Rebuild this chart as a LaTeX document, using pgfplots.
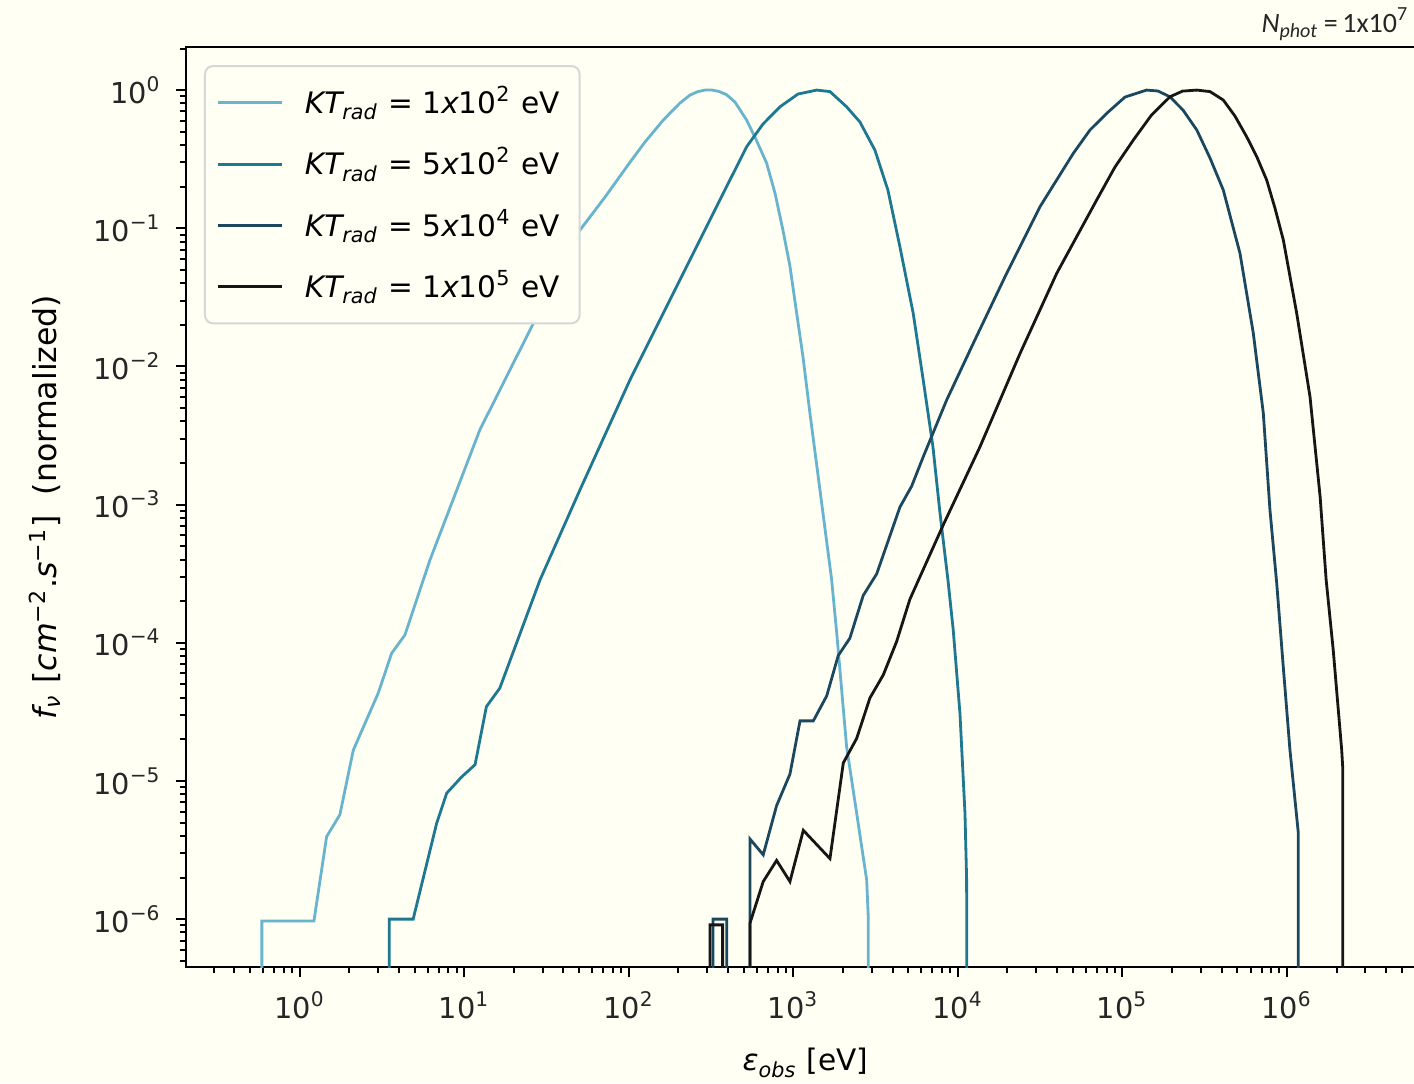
\documentclass[border=0pt]{standalone}
\usepackage{fontspec}
\setmainfont{DejaVu Sans}
\newfontfamily\carlito{Carlito}
\usepackage{pgfplots}
\pgfplotsset{compat=1.18}
\definecolor{bg}{RGB}{255,255,244}
\definecolor{cA}{RGB}{104,180,207}
\definecolor{cB}{RGB}{30,120,145}
\definecolor{cC}{RGB}{28,72,95}
\definecolor{cD}{RGB}{22,22,22}
\definecolor{legedge}{RGB}{215,215,215}
\newcommand{\fs}{\fontsize{7.2}{8.6}\selectfont}
\newcommand{\fl}{\fontsize{7.4}{8.8}\selectfont}
\begin{document}
\begin{tikzpicture}
\fill[bg] (-46.5pt,-29pt) rectangle (307pt,241.75pt);
\begin{axis}[
  at={(0,0)}, anchor=south west,
  scale only axis, width=309.75pt, height=230pt,
  xmode=log, ymode=log,
  xmin=0.203, xmax=6.9e6, ymin=4.5e-7, ymax=2.05,
  axis background/.style={fill=bg},
  axis line style={line width=0.6pt},
  tick pos=left, tick align=outside,
  major tick length=2.6pt, minor tick length=1.5pt,
  every tick/.style={black, line width=0.5pt},
  xtick={1,10,100,1000,10000,100000,1000000},
  xticklabels={10\textsuperscript{0},10\textsuperscript{1},10\textsuperscript{2},10\textsuperscript{3},10\textsuperscript{4},10\textsuperscript{5},10\textsuperscript{6}},
  minor xtick={0.3,0.4,0.5,0.6,0.7,0.8,0.9,2,3,4,5,6,7,8,9,20,30,40,50,60,70,80,90,200,300,400,500,600,700,800,900,2e3,3e3,4e3,5e3,6e3,7e3,8e3,9e3,2e4,3e4,4e4,5e4,6e4,7e4,8e4,9e4,2e5,3e5,4e5,5e5,6e5,7e5,8e5,9e5,2e6,3e6,4e6,5e6,6e6},
  ytick={1e-6,1e-5,1e-4,1e-3,1e-2,1e-1,1},
  yticklabels={10\textsuperscript{−6},10\textsuperscript{−5},10\textsuperscript{−4},10\textsuperscript{−3},10\textsuperscript{−2},10\textsuperscript{−1},10\textsuperscript{0}},
  minor ytick={5e-7,6e-7,7e-7,8e-7,9e-7,2e-6,3e-6,4e-6,5e-6,6e-6,7e-6,8e-6,9e-6,2e-5,3e-5,4e-5,5e-5,6e-5,7e-5,8e-5,9e-5,2e-4,3e-4,4e-4,5e-4,6e-4,7e-4,8e-4,9e-4,2e-3,3e-3,4e-3,5e-3,6e-3,7e-3,8e-3,9e-3,2e-2,3e-2,4e-2,5e-2,6e-2,7e-2,8e-2,9e-2,0.2,0.3,0.4,0.5,0.6,0.7,0.8,0.9,2},
  tick label style={font=\fs, text=black!85},
  every axis x label/.style={at={(axis description cs:0.5,-0.113)}, anchor=base},
  every axis y label/.style={at={(axis description cs:-0.1138,0.5)}, rotate=90, anchor=center},
  xlabel={\fl{\itshape ε\textsubscript{obs}} [eV]},
  ylabel={\fontsize{7.9}{9.4}\selectfont{\itshape f\textsubscript{ν}} [{\itshape cm}\textsuperscript{−2}.{\itshape s}\textsuperscript{−1}] \ (normalized)},
  legend style={at={(0.0145,0.9804)}, anchor=north west, draw=legedge, fill=bg,
    rounded corners=2pt, line width=0.5pt, font=\fl, row sep=3pt,
    inner xsep=3pt, inner ysep=3pt},
  legend cell align=left,
  legend image code/.code={\draw[#1] (0pt,0pt) -- (16pt,0pt); \path (19.3pt,0pt);},
  every axis plot/.append style={line width=0.7pt},
]
\addplot[cA] coordinates {
(0.587,1e-12)(0.587,9.7e-7)(1.217,9.7e-7)(1.453,3.95e-6)(1.75,5.7e-6)(2.11,1.67e-5)
(2.99,4.31e-5)(3.61,8.4e-5)(4.35,1.14e-4)(6.17,3.97e-4)(12.4,3.47e-3)(25.0,1.83e-2)
(50.4,9.7e-2)(71.5,0.168)(101.4,0.30)(125,0.42)(161.7,0.607)(204,0.805)(235,0.92)
(262,0.975)(290,1.0)(320,1.0)(350,0.98)(390,0.93)(441,0.82)(519,0.607)(592,0.44)
(687,0.296)(772,0.18)(863,0.097)(952,0.0532)(1046,0.0243)(1143,0.0117)(1259,4.6e-3)
(1511,8.7e-4)(1707,2.85e-4)(1832,1.18e-4)(2104,1.77e-5)(2421,5.86e-6)(2787,1.92e-6)
(2850,1.02e-6)(2850,1e-12)
};
\addlegendentry{{\itshape KT\textsubscript{rad}} = 1{\itshape x}10\textsuperscript{2} eV}
\addplot[cB] coordinates {
(3.49,1e-12)(3.49,1.0e-6)(4.88,1.0e-6)(6.78,4.94e-6)(7.80,8.15e-6)(9.62,1.07e-5)
(11.6,1.31e-5)(13.6,3.45e-5)(16.4,4.69e-5)(28.8,2.85e-4)(50.4,1.28e-3)(101.4,7.98e-3)
(204,4.22e-2)(325,0.128)(519,0.389)(653,0.568)(828,0.757)(1065,0.936)(1384,1.0)
(1668,0.975)(2104,0.757)(2537,0.587)(3126,0.368)(3751,0.189)(4437,0.0735)(5345,0.0242)
(6148,7.98e-3)(7046,2.62e-3)(7779,8.65e-4)(8690,2.85e-4)(9357,1.24e-4)(10280,3.09e-5)
(11030,5.84e-6)(11290,1.92e-6)(11380,1e-12)
};
\addlegendentry{{\itshape KT\textsubscript{rad}} = 5{\itshape x}10\textsuperscript{2} eV}
\addplot[cC] coordinates {
(324,1e-12)(324,1.0e-6)(393,1.0e-6)(393,1e-12)(544,1e-12)(544,3.8e-6)(655,2.92e-6)
(790,6.63e-6)(952,1.12e-5)(1096,2.72e-5)(1320,2.72e-5)(1592,4.12e-5)(1871,8.07e-5)
(2203,1.08e-4)(2655,2.2e-4)(3205,3.15e-4)(4439,9.6e-4)(5230,1.36e-3)(6152,2.22e-3)
(8535,5.71e-3)(12390,1.47e-2)(19770,4.72e-2)(31500,0.143)(50200,0.348)(63450,0.514)
(80100,0.678)(103500,0.89)(140000,1.0)(164300,0.985)(194000,0.895)(233300,0.717)
(283000,0.514)(340600,0.322)(410000,0.189)(518000,0.0658)(624000,0.0174)(718000,4.58e-3)
(788000,9.14e-4)(866000,2.7e-4)(949000,6.72e-5)(1042000,1.68e-5)(1145000,5.52e-6)
(1172000,4.19e-6)(1172000,1e-12)
};
\addlegendentry{{\itshape KT\textsubscript{rad}} = 5{\itshape x}10\textsuperscript{4} eV}
\addplot[cD] coordinates {
(311,1e-12)(311,9.08e-7)(371,9.08e-7)(371,1e-12)(544,1e-12)(544,9.33e-7)(655,1.87e-6)
(790,2.66e-6)(952,1.87e-6)(1148,4.39e-6)(1667,2.74e-6)(2009,1.35e-5)(2422,2.03e-5)
(2917,3.99e-5)(3515,5.85e-5)(4237,1.02e-4)(5106,2.07e-4)(8144,7.14e-4)(13610,2.62e-3)
(23830,1.24e-2)(39840,4.72e-2)(69660,0.160)(89960,0.277)(116400,0.435)(150000,0.659)
(194500,0.895)(231800,0.983)(283000,1.0)(340600,0.975)(410000,0.847)(483000,0.648)
(569000,0.459)(657000,0.327)(753000,0.223)(845000,0.14)(950000,0.0822)(1146000,0.0242)
(1380000,6.04e-3)(1590000,1.14e-3)(1730000,2.85e-4)(1910000,8.87e-5)(2150000,1.68e-5)
(2180000,1.27e-5)(2180000,1e-12)
};
\addlegendentry{{\itshape KT\textsubscript{rad}} = 1{\itshape x}10\textsuperscript{5} eV}
\end{axis}
\node[anchor=base east, inner sep=0pt, font=\carlito\fontsize{7}{8}\selectfont, text=black!85] at (306pt,233.5pt) {{\itshape N\textsubscript{phot}}\,=\,1x10\textsuperscript{7}};
\pgfresetboundingbox
\useasboundingbox (-46.5pt,-29pt) rectangle (307pt,241.75pt);
\end{tikzpicture}
\end{document}
